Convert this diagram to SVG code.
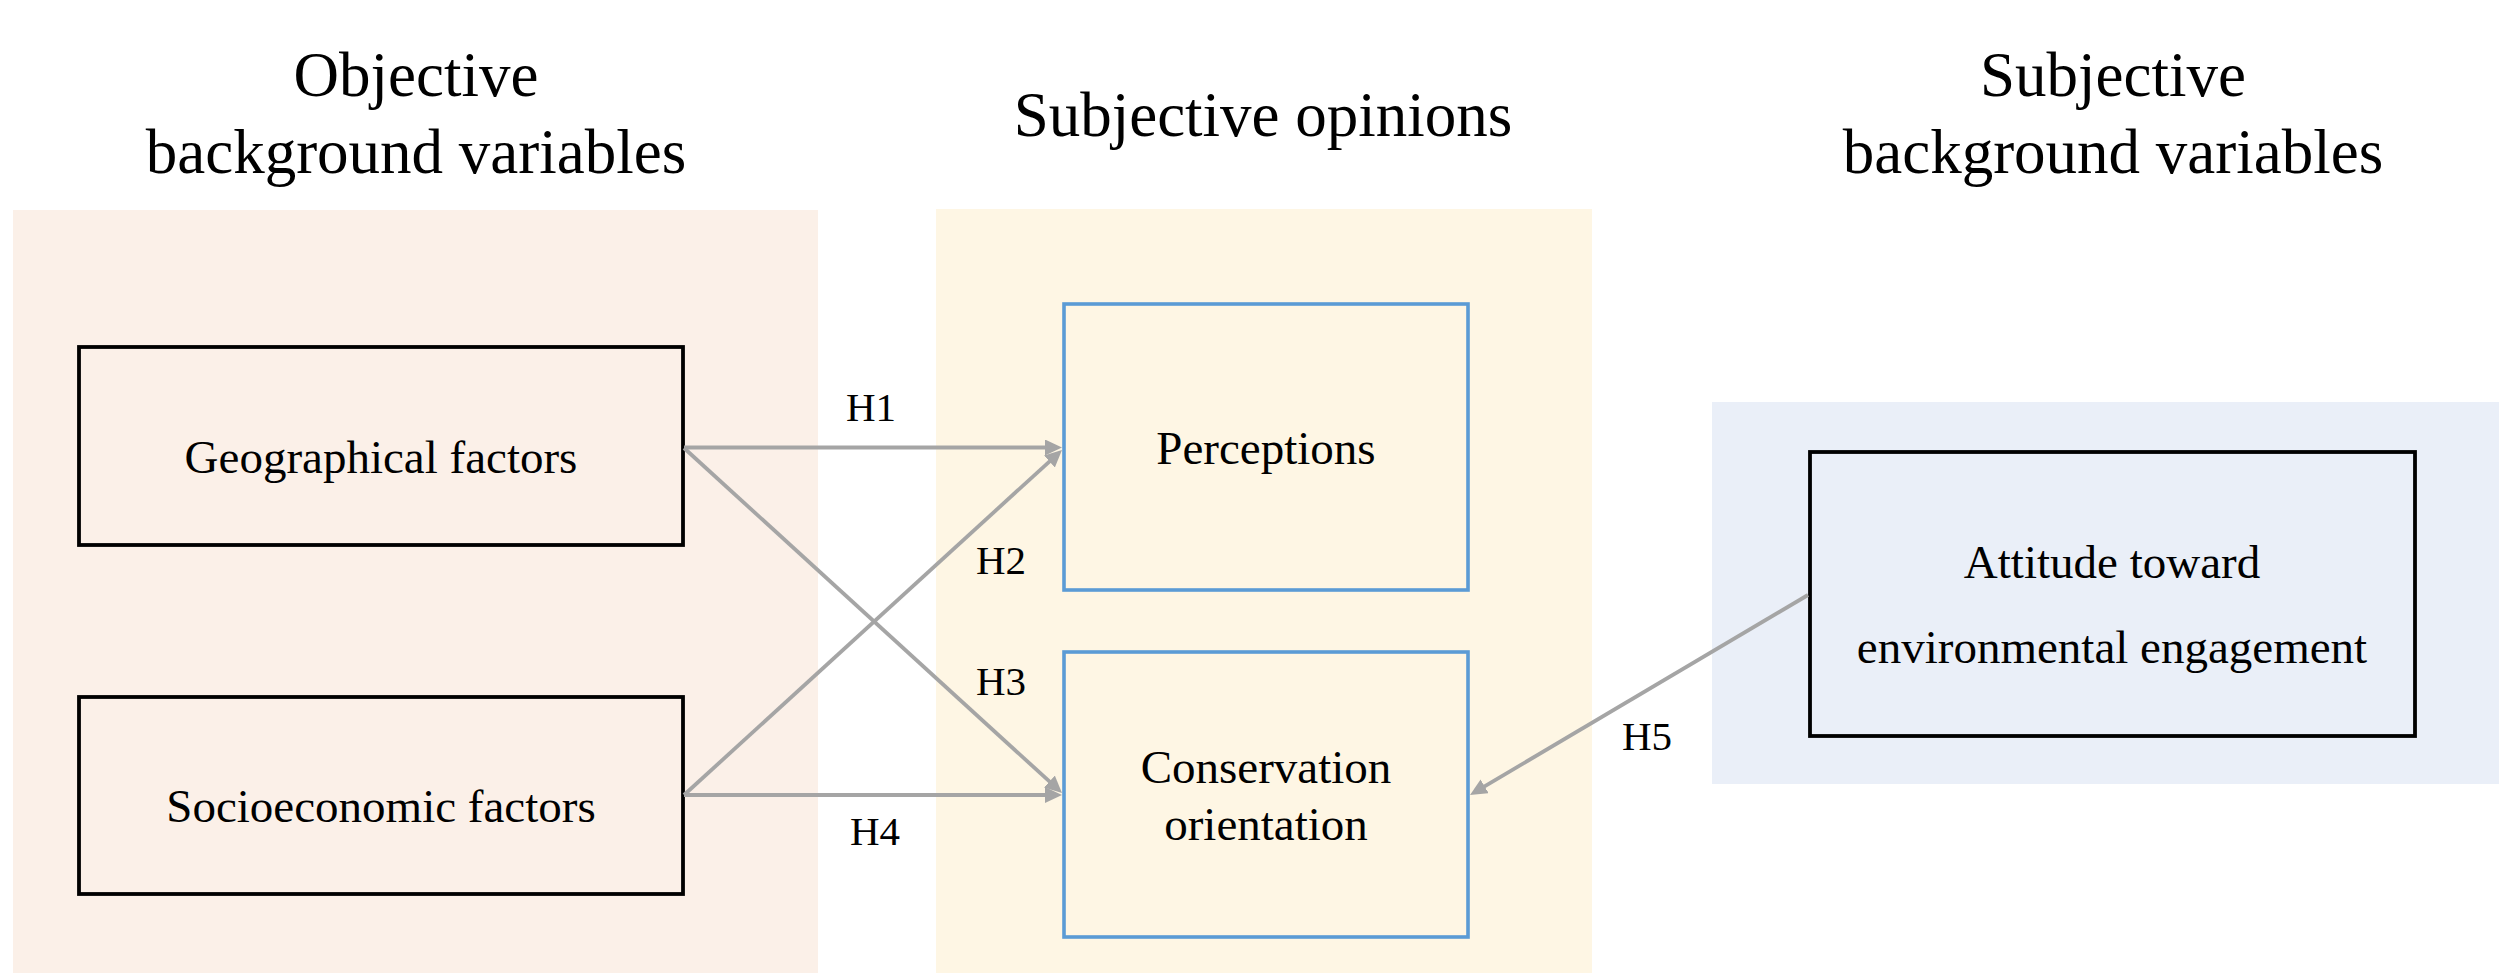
<svg xmlns="http://www.w3.org/2000/svg" width="2499" height="973" viewBox="0 0 2499 973">
<style>
text{font-family:"Liberation Serif","Times New Roman",serif;fill:#000}
.title{font-size:63px;text-anchor:middle}
.node{font-size:47px;text-anchor:middle}
.lbl{font-size:41px}
.bk{fill:none;stroke:#000;stroke-width:3.8}
.bl{fill:none;stroke:#5B9BD5;stroke-width:3.6}
.cn{fill:none;stroke:#A5A5A5;stroke-width:3.8}
</style>
<defs>
<marker id="ah" markerUnits="userSpaceOnUse" markerWidth="20" markerHeight="18" refX="4" refY="8" orient="auto">
<path d="M0,0 L17,8 L0,16 z" fill="#A5A5A5"/>
</marker>
</defs>
<rect width="2499" height="973" fill="#fff"/>
<g id="backgrounds">
<rect x="13" y="210" width="805" height="763" fill="#FBF0E8"/>
<rect x="936" y="209" width="656" height="764" fill="#FEF6E4"/>
<rect x="1712" y="402" width="787" height="382" fill="#EAEFF8"/>
</g>
<g id="titles">
<text class="title" x="416" y="96">Objective</text>
<text class="title" x="416" y="173">background variables</text>
<text class="title" x="1263" y="136">Subjective opinions</text>
<text class="title" x="2113" y="96">Subjective</text>
<text class="title" x="2113" y="173">background variables</text>
</g>
<g id="geographical">
<rect class="bk" x="79" y="347" width="604" height="198"/>
<text class="node" x="381" y="473">Geographical factors</text>
</g>
<g id="socioeconomic">
<rect class="bk" x="79" y="697" width="604" height="197"/>
<text class="node" x="381" y="822">Socioeconomic factors</text>
</g>
<g id="perceptions">
<rect class="bl" x="1064" y="304" width="404" height="286"/>
<text class="node" x="1266" y="464">Perceptions</text>
</g>
<g id="conservation">
<rect class="bl" x="1064" y="652" width="404" height="285"/>
<text class="node" x="1266" y="783">Conservation</text>
<text class="node" x="1266" y="840">orientation</text>
</g>
<g id="attitude">
<rect class="bk" x="1810" y="452" width="605" height="284"/>
<text class="node" x="2112" y="578">Attitude toward</text>
<text class="node" x="2112" y="663">environmental engagement</text>
</g>
<g id="connectors">
<line class="cn" x1="684" y1="447.5" x2="1049" y2="447.5" marker-end="url(#ah)"/>
<line class="cn" x1="684" y1="448" x2="1052.4" y2="784.2" marker-end="url(#ah)"/>
<line class="cn" x1="684" y1="795" x2="1052.4" y2="458.8" marker-end="url(#ah)"/>
<line class="cn" x1="684" y1="795" x2="1049" y2="795" marker-end="url(#ah)"/>
<line class="cn" x1="1808" y1="595" x2="1481.2" y2="788.4" marker-end="url(#ah)"/>
</g>
<g id="labels">
<text class="lbl" x="846" y="421">H1</text>
<text class="lbl" x="976" y="574">H2</text>
<text class="lbl" x="976" y="695">H3</text>
<text class="lbl" x="850" y="845">H4</text>
<text class="lbl" x="1622" y="750">H5</text>
</g>
</svg>
